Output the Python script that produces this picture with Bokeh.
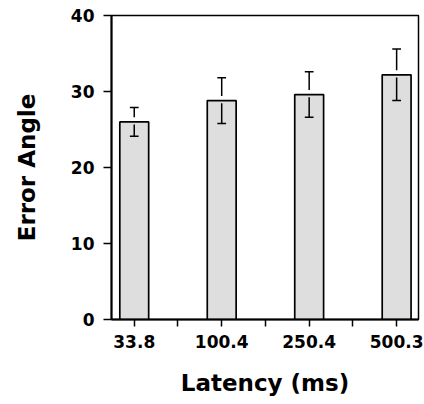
from bokeh.plotting import figure
from bokeh.models import Range1d, FixedTicker
from bokeh.embed import file_html
from bokeh.resources import INLINE

# Data
latency_labels = ["33.8", "100.4", "250.4", "500.3"]
mean_error_angle = [26.0, 28.8, 29.6, 32.2]
sem_error_angle = [1.9, 3.0, 3.0, 3.4]
y_ticks = [0, 10, 20, 30, 40]

xs = list(range(len(latency_labels)))
FONT = "DejaVu Sans"

p = figure(width=424, height=404, output_backend="svg", toolbar_location=None,
           x_range=Range1d(-0.26, 3.25), y_range=Range1d(0, 40))
p.min_border_left = 111
p.min_border_right = 6
p.min_border_top = 15
p.min_border_bottom = 85
p.background_fill_color = "white"
p.border_fill_color = "white"
p.xgrid.visible = False
p.ygrid.visible = False
p.outline_line_color = "black"
p.outline_line_width = 1.5

bar_w = 0.33
p.vbar(x=xs, top=mean_error_angle, width=bar_w, bottom=0,
       fill_color="#dedede", line_color="black", line_width=1.7)

gap_up = 0.6
gap_dn = 0.35
up_top = [m + e for m, e in zip(mean_error_angle, sem_error_angle)]
up_bot = [m + gap_up for m in mean_error_angle]
dn_top = [m - gap_dn for m in mean_error_angle]
dn_bot = [m - e for m, e in zip(mean_error_angle, sem_error_angle)]
cap = 0.05
p.segment(x0=xs, y0=up_bot, x1=xs, y1=up_top, line_color="black", line_width=1.5)
p.segment(x0=xs, y0=dn_top, x1=xs, y1=dn_bot, line_color="black", line_width=1.5)
p.segment(x0=[x - cap for x in xs], y0=up_top, x1=[x + cap for x in xs], y1=up_top,
          line_color="black", line_width=1.5)
p.segment(x0=[x - cap for x in xs], y0=dn_bot, x1=[x + cap for x in xs], y1=dn_bot,
          line_color="black", line_width=1.5)

# Axes
p.xaxis.ticker = FixedTicker(ticks=xs, minor_ticks=[x + 0.5 for x in xs[:-1]])
p.xaxis.major_label_overrides = {x: lab for x, lab in zip(xs, latency_labels)}
p.yaxis.ticker = FixedTicker(ticks=y_ticks, minor_ticks=[])
p.xaxis.axis_label = "Latency (ms)"
p.yaxis.axis_label = "Error Angle"

for ax in (p.xaxis[0], p.yaxis[0]):
    ax.axis_line_color = "black"
    ax.axis_line_width = 2
    ax.major_tick_line_color = "black"
    ax.major_tick_line_width = 1.5
    ax.minor_tick_line_color = "black"
    ax.minor_tick_line_width = 1.5
    ax.major_tick_in = 0
    ax.minor_tick_in = 0
    ax.major_label_text_font = FONT
    ax.major_label_text_font_style = "bold"
    ax.major_label_text_font_size = "17px"
    ax.major_label_text_color = "black"
    ax.axis_label_text_font = FONT
    ax.axis_label_text_font_style = "bold"
    ax.axis_label_text_font_size = "23px"
    ax.axis_label_text_color = "black"

p.xaxis.major_tick_out = 7
p.xaxis.minor_tick_out = 7
p.xaxis.major_label_standoff = 8
p.xaxis.axis_label_standoff = 19
p.yaxis.major_tick_out = 8
p.yaxis.minor_tick_out = 0
p.yaxis.major_label_standoff = 9
p.yaxis.axis_label_standoff = 28

open("out.html", "w").write(file_html(p, INLINE))
